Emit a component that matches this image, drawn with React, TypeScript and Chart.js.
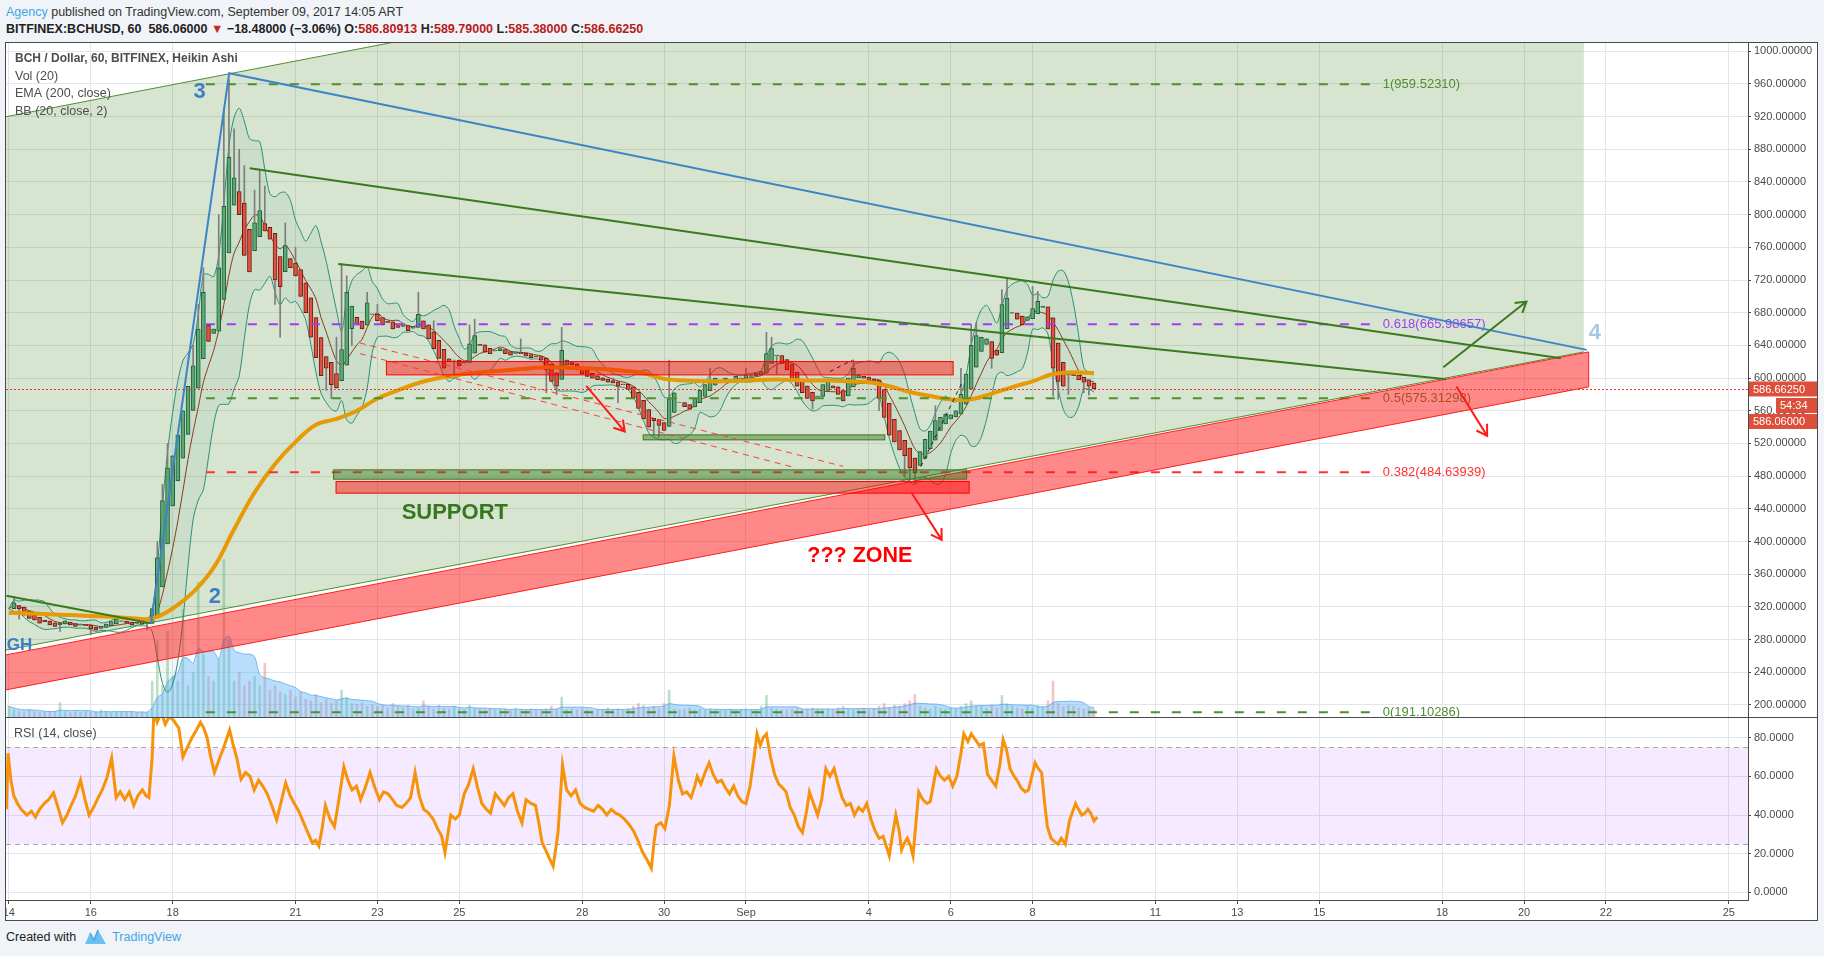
import React, { useEffect, useRef } from "react";
import { Chart, registerables } from "chart.js";

Chart.register(...registerables);

const FONT = '"Liberation Sans", Arial, Helvetica, sans-serif';

// ---------- axes ----------
// x values are days since Aug 14, 2017 00:00
const dayTicks = [0, 2, 4, 7, 9, 11, 14, 16, 18, 21, 23, 25, 28, 30, 32, 35, 37, 39, 42];
const dayTickLabels = ["14", "16", "18", "21", "23", "25", "28", "30", "Sep", "4", "6", "8", "11", "13", "15", "18", "20", "22", "25"];
const priceTicks = [200, 240, 280, 320, 360, 400, 440, 480, 520, 560, 600, 640, 680, 720, 760, 800, 840, 880, 920, 960, 1000];
const rsiTicks = [0, 20, 40, 60, 80];
const xRange = [-0.07, 42.47];
const priceRange = [185.3, 1010];
const rsiRange = [-3.9, 90.2];
const volumeAxisMax = 750;

// ---------- Heikin Ashi closes, one every 3 hours (8 per day) ----------
const candleStepDays = 0.125;
const haClose = [
  318, 325, 318, 310, 306, 304, 300, 302,
  298, 296, 300, 303, 298, 296, 299, 297,
  293, 292, 296, 299, 302, 305, 303, 300,
  298, 301, 299, 300, 318, 380, 450, 490,
  505, 530, 560, 590, 615, 660, 705, 645,
  660, 735, 810, 870, 845, 800, 750, 730,
  790, 805, 780, 770, 720, 712, 762, 735,
  725, 700, 680, 650, 625, 603, 612, 592,
  588, 635, 705, 688, 665, 660, 692, 678,
  670, 665, 668, 660, 662, 665, 658, 663,
  678, 660, 648, 636, 624, 612, 620, 622,
  615, 620, 642, 652, 640, 632, 630, 634,
  636, 630, 628, 632, 630, 627, 625, 626,
  622, 610, 596, 590, 634, 622, 616, 610,
  605, 602, 600, 598, 597, 595, 594, 590,
  592, 586, 576, 563, 550, 540, 548, 542,
  536, 575, 582, 570, 565, 562, 575, 585,
  592, 598, 600, 596, 600, 598, 602, 600,
  604, 603, 606, 608, 630, 636, 628, 618,
  610, 598, 590, 582, 575, 572, 578, 592,
  596, 588, 580, 572, 600, 612, 604, 600,
  597, 596, 575, 552, 530, 522, 512, 505,
  490, 484, 510, 525, 535, 548, 552, 556,
  555, 560, 580, 605, 640, 652, 650, 648,
  624, 628, 690, 698, 680, 672, 665, 675,
  685, 694, 688, 660, 612, 596, 590, 604,
  603, 598, 595, 590, 587,
];

// notable wicks: [candle index, price]
const wickHighs = [
  [1, 332], [29, 400], [30, 470], [31, 520], [36, 640], [37, 690], [38, 735], [41, 800], [42, 930], [43, 965],
  [44, 905], [45, 880], [46, 860], [48, 830], [49, 855], [50, 835], [54, 790], [56, 760], [64, 650], [65, 740],
  [66, 725], [70, 705], [72, 690], [80, 705], [83, 670], [90, 665], [91, 672], [100, 648], [108, 662], [118, 600],
  [129, 622], [137, 612], [144, 612], [148, 656], [149, 650], [165, 622], [181, 566], [186, 612], [188, 666],
  [189, 668], [194, 708], [195, 722], [200, 712], [201, 706], [204, 672],
];
const wickLows = [
  [2, 305], [10, 290], [16, 286], [27, 292], [52, 690], [53, 650], [62, 585], [63, 575], [67, 640], [87, 600],
  [105, 582], [107, 580], [119, 570], [126, 530], [127, 528], [150, 605], [157, 562], [170, 560], [175, 480],
  [176, 474], [177, 472], [192, 612], [204, 578], [205, 574], [207, 580], [210, 582], [211, 579],
];

// volume, same 3-hour steps
const volume = [
  12, 8, 6, 6, 8, 6, 5, 6,
  6, 6, 16, 6, 5, 6, 5, 6,
  5, 6, 8, 6, 5, 6, 6, 5,
  6, 5, 6, 5, 40, 85, 35, 95,
  45, 40, 120, 35, 50, 150, 70, 45,
  40, 65, 175, 85, 40, 50, 35, 40,
  45, 35, 60, 30, 35, 28, 25, 30,
  22, 28, 20, 18, 25, 16, 20, 15,
  18, 30, 22, 15, 14, 16, 12, 14,
  12, 13, 10, 15, 12, 10, 13, 9,
  10, 18, 12, 9, 13, 10, 9, 12,
  9, 8, 13, 10, 9, 8, 9, 8,
  8, 9, 8, 10, 8, 7, 9, 8,
  8, 9, 12, 9, 22, 8, 9, 8,
  9, 8, 7, 9, 8, 10, 8, 9,
  8, 9, 12, 15, 13, 10, 12, 9,
  15, 30, 9, 8, 9, 10, 8, 9,
  8, 9, 8, 7, 8, 9, 8, 8,
  9, 8, 8, 12, 24, 10, 9, 8,
  8, 9, 10, 8, 9, 10, 9, 8,
  9, 8, 10, 12, 9, 8, 9, 10,
  8, 9, 12, 15, 10, 13, 12, 15,
  18, 25, 12, 10, 9, 12, 10, 9,
  10, 9, 12, 15, 18, 13, 12, 10,
  13, 10, 24, 15, 12, 10, 9, 12,
  10, 13, 12, 18, 40, 15, 12, 13,
  12, 10, 9, 10, 8,
];

// EMA(200) read every 12 hours
const emaStepDays = 0.5;
const ema200 = [
  313, 312, 311, 310, 309, 308, 306, 306, 318, 338, 368, 415, 460, 495, 522, 543, 550, 560,
  575, 585, 594, 600, 604, 607, 609, 611, 613, 613, 612, 611, 609, 606, 599, 597, 596, 596,
  597, 598, 598, 597, 597, 596, 595, 590, 583, 578, 574, 574, 581, 589, 596, 605, 607, 606,
];

// RSI(14) readings: [day, value]
const rsiSeries = [
  [-0.06, 43], [-0.02, 72], [0.05, 58], [0.12, 50], [0.21, 46], [0.3, 43], [0.44, 40], [0.55, 42], [0.65, 39], [0.75, 43],
  [0.86, 46], [0.97, 48], [1.09, 51.5], [1.2, 44], [1.31, 36], [1.42, 40], [1.52, 45], [1.63, 50], [1.75, 58], [1.86, 48],
  [1.96, 40], [2.07, 44], [2.18, 49], [2.28, 53], [2.39, 59], [2.51, 69.5], [2.62, 49], [2.72, 52], [2.83, 48], [2.94, 52],
  [3.05, 45], [3.15, 50], [3.26, 53], [3.35, 50], [3.42, 49], [3.5, 70], [3.54, 94], [3.62, 88], [3.72, 93], [3.82, 87],
  [3.92, 91], [4.02, 89], [4.15, 85], [4.25, 70], [4.36, 75], [4.47, 80], [4.58, 84], [4.68, 88], [4.76, 85], [4.84, 80],
  [4.93, 70], [5.02, 62], [5.12, 68], [5.23, 74], [5.31, 79], [5.39, 84], [5.47, 77], [5.56, 70], [5.67, 58.6], [5.78, 62],
  [5.89, 60], [5.99, 53], [6.1, 58], [6.2, 55], [6.31, 51], [6.42, 45], [6.54, 37.5], [6.65, 47], [6.76, 56.6], [6.87, 50],
  [6.97, 46], [7.08, 42], [7.18, 37], [7.3, 31], [7.41, 25.6], [7.49, 27], [7.57, 24], [7.65, 33], [7.73, 45], [7.84, 38],
  [7.95, 34], [8.06, 48], [8.18, 65], [8.28, 58], [8.38, 53], [8.49, 55], [8.59, 48], [8.7, 54], [8.82, 62], [8.94, 54],
  [9.05, 48], [9.15, 52], [9.26, 51], [9.37, 48], [9.47, 45], [9.6, 44], [9.7, 46], [9.81, 49], [9.92, 62], [10.02, 50],
  [10.13, 43], [10.25, 41], [10.36, 38], [10.47, 33], [10.57, 29], [10.65, 20.6], [10.72, 30], [10.79, 40], [10.9, 38], [11.0, 40],
  [11.12, 51], [11.23, 56], [11.34, 64], [11.45, 54], [11.55, 46], [11.66, 43], [11.76, 41], [11.88, 51], [11.99, 48], [12.1, 45],
  [12.2, 49], [12.31, 51], [12.42, 42], [12.53, 36], [12.63, 48], [12.75, 46], [12.86, 45], [12.95, 35], [13.02, 26], [13.15, 20],
  [13.29, 13.6], [13.35, 22], [13.41, 31], [13.52, 66], [13.62, 53], [13.73, 50], [13.84, 53], [13.95, 46], [14.06, 44], [14.17, 43],
  [14.28, 42], [14.39, 45], [14.5, 43], [14.6, 40], [14.71, 43], [14.82, 41], [14.92, 40], [15.03, 38], [15.15, 35], [15.26, 31.5],
  [15.36, 27], [15.47, 21], [15.58, 17], [15.69, 12.5], [15.75, 25], [15.81, 34.5], [15.92, 36], [16.02, 33], [16.13, 45], [16.24, 70.6],
  [16.35, 58], [16.45, 51], [16.55, 52], [16.66, 49], [16.75, 55], [16.81, 60], [16.9, 56], [17.0, 62], [17.1, 67], [17.2, 61],
  [17.3, 57], [17.4, 58], [17.5, 54], [17.6, 51], [17.7, 55], [17.8, 50], [17.9, 47], [18.0, 46], [18.1, 55], [18.2, 70],
  [18.27, 82], [18.35, 76], [18.42, 80], [18.5, 82], [18.6, 70], [18.7, 61], [18.8, 56], [18.9, 54], [18.98, 52], [19.08, 44],
  [19.18, 40], [19.28, 34], [19.38, 31], [19.48, 42], [19.55, 52], [19.65, 46], [19.75, 40], [19.85, 48], [19.95, 64], [20.05, 60],
  [20.15, 64], [20.25, 56], [20.35, 49], [20.45, 45], [20.55, 46], [20.65, 40], [20.75, 44], [20.85, 42], [20.95, 46], [21.05, 38],
  [21.15, 32], [21.25, 28], [21.35, 29], [21.5, 19], [21.58, 30], [21.66, 40], [21.74, 32], [21.8, 22], [21.88, 26], [21.94, 28],
  [22.02, 24], [22.08, 19], [22.15, 36], [22.22, 52], [22.32, 48], [22.42, 46], [22.5, 47], [22.58, 56], [22.65, 64], [22.75, 60],
  [22.85, 58], [22.95, 60], [23.05, 55], [23.15, 60], [23.25, 72], [23.32, 82], [23.42, 78], [23.5, 82], [23.6, 79], [23.7, 76],
  [23.8, 77], [23.9, 61], [24.0, 58], [24.1, 55], [24.2, 66], [24.28, 79], [24.36, 74], [24.45, 64], [24.55, 60], [24.62, 58],
  [24.72, 54], [24.82, 52], [24.9, 53], [24.98, 60], [25.06, 67], [25.14, 64], [25.22, 62], [25.3, 45], [25.36, 34], [25.45, 28],
  [25.55, 26], [25.62, 25], [25.7, 28], [25.8, 25], [25.9, 37], [25.98, 42], [26.05, 46], [26.12, 43], [26.2, 40], [26.28, 41],
  [26.35, 43], [26.42, 41], [26.5, 37], [26.58, 39],
];
const rsiBandTop = 75;
const rsiBandBottom = 25;

// ---------- header values ----------
const lastPrice = 586.6625;
const lastTrade = 586.06;
const change = -18.48;
const changePct = -3.06;
const ohlc = [586.80913, 589.79, 585.38, 586.6625];
const countdown = "54:34";

// ---------- Fibonacci retracement ----------
const fibRatios = ["1", "0.618", "0.5", "0.382", "0"];
const fibPrices = [959.5231, 665.98657, 575.31298, 484.63939, 191.10286];
const fibColors = ["#4f8f2f", "#a23cf0", "#4f8f2f", "#ff3030", "#4f8f2f"];
const fibSpan = [4.81, 33.43];

// ---------- drawings (day, price) ----------
const trianglePts = [[-0.1, 919.5], [38.46, 1291], [38.46, 632], [-0.1, 267]];
const redBandPts = [[-0.1, 261], [38.58, 632], [38.58, 589.2], [-0.1, 218.2]];
const redRects = [[9.22, 603.9, 23.06, 620.2], [7.99, 459.2, 23.45, 473.4]];
const greenRects = [[15.49, 524.4, 21.39, 530.5], [7.93, 476.3, 23.39, 487.7]];
const blueWave = [[3.47, 300], [5.38, 973], [38.53, 634.5]];
const greenTrendlines = [
  [[5.88, 856.8], [37.9, 624.3]],
  [[8.04, 739.7], [35.1, 598.7]],
  [[-0.06, 333.6], [3.47, 300]],
];
const redDashed = [
  [[8.57, 643], [20.37, 492]],
  [[8.57, 630], [19.15, 491]],
];
const blackDashed = [
  [[20.05, 608], [20.6, 622]],
  [[22.27, 491.7], [23.27, 593.8]],
];
const greenArrows = [[[35.03, 613.3], [37.06, 693.6]]];
const redArrows = [
  [[35.35, 589.6], [36.1, 529.3]],
  [[22.04, 460], [22.78, 402]],
  [[14.1, 590.5], [15.04, 534.6]],
];
const textLabels = [
  { text: "3", d: 4.66, p: 950, color: "#3d7fc7", size: 22, align: "center" },
  { text: "2", d: 5.03, p: 332.6, color: "#3d7fc7", size: 22, align: "center" },
  { text: "4", d: 38.73, p: 655.7, color: "#a9c7e6", size: 22, align: "center" },
  { text: "GH", d: -0.05, p: 273, color: "#3d7fc7", size: 17, align: "left" },
  { text: "SUPPORT", d: 10.89, p: 435, color: "#38761d", size: 22, align: "center" },
  { text: "??? ZONE", d: 20.78, p: 382.6, color: "#ff0000", size: 21.5, align: "center" },
];
const legendLines = ["BCH / Dollar, 60, BITFINEX, Heikin Ashi", "Vol (20)", "EMA (200, close)", "BB (20, close, 2)"];

// ---------- derived tables ----------
const haOpen: number[] = [];
haClose.forEach((c, i) => {
  haOpen.push(i === 0 ? c : (haOpen[i - 1] + haClose[i - 1]) / 2);
});
const BB_LEN = 7;
const bb = haClose.map((_, i) => {
  const w = haClose.slice(Math.max(0, i - BB_LEN + 1), i + 1);
  const m = w.reduce((a, b) => a + b, 0) / w.length;
  const sd = Math.sqrt(w.reduce((a, b) => a + (b - m) * (b - m), 0) / w.length);
  return { m, u: m + 2 * sd, l: m - 2 * sd };
});
const VOL_MA = 7;
const volMa = volume.map((_, i) => {
  const w = volume.slice(Math.max(0, i - VOL_MA + 1), i + 1);
  return w.reduce((a, b) => a + b, 0) / w.length;
});

function pathPoly(ctx: any, X: any, Y: any, pts: number[][]) {
  ctx.beginPath();
  pts.forEach(([d, p], i) => (i ? ctx.lineTo(X(d), Y(p)) : ctx.moveTo(X(d), Y(p))));
  ctx.closePath();
}

function seg(ctx: any, X: any, Y: any, a: number[], b: number[]) {
  ctx.beginPath();
  ctx.moveTo(X(a[0]), Y(a[1]));
  ctx.lineTo(X(b[0]), Y(b[1]));
  ctx.stroke();
}

function arrow(ctx: any, X: any, Y: any, a: number[], b: number[], color: string) {
  const x1 = X(a[0]), y1 = Y(a[1]), x2 = X(b[0]), y2 = Y(b[1]);
  const ang = Math.atan2(y2 - y1, x2 - x1);
  const L = 12;
  ctx.strokeStyle = color;
  ctx.lineWidth = 2;
  ctx.setLineDash([]);
  ctx.beginPath();
  ctx.moveTo(x1, y1);
  ctx.lineTo(x2, y2);
  ctx.moveTo(x2 - L * Math.cos(ang - 0.55), y2 - L * Math.sin(ang - 0.55));
  ctx.lineTo(x2, y2);
  ctx.lineTo(x2 - L * Math.cos(ang + 0.55), y2 - L * Math.sin(ang + 0.55));
  ctx.stroke();
}

const mainOverlay = {
  id: "mainOverlay",
  beforeDatasetsDraw(chart: any) {
    const { ctx, chartArea: a } = chart;
    const X = (d: number) => chart.scales.x.getPixelForValue(d);
    const Y = (p: number) => chart.scales.y.getPixelForValue(p);
    ctx.save();
    ctx.beginPath();
    ctx.rect(a.left, a.top, a.right - a.left, a.bottom - a.top);
    ctx.clip();
    pathPoly(ctx, X, Y, trianglePts);
    ctx.fillStyle = "rgba(76,140,50,0.23)";
    ctx.fill();
    ctx.strokeStyle = "#4f8f2f";
    ctx.lineWidth = 1;
    seg(ctx, X, Y, trianglePts[0], trianglePts[1]);
    seg(ctx, X, Y, trianglePts[3], trianglePts[2]);
    ctx.restore();
  },
  afterDatasetsDraw(chart: any) {
    const { ctx, chartArea: a } = chart;
    const X = (d: number) => chart.scales.x.getPixelForValue(d);
    const Y = (p: number) => chart.scales.y.getPixelForValue(p);
    ctx.save();
    ctx.beginPath();
    ctx.rect(a.left, a.top, a.right - a.left, a.bottom - a.top);
    ctx.clip();

    // fib levels
    fibPrices.forEach((p, i) => {
      ctx.strokeStyle = fibColors[i];
      ctx.lineWidth = 2;
      ctx.setLineDash([9, 12]);
      seg(ctx, X, Y, [fibSpan[0], p], [fibSpan[1], p]);
      ctx.setLineDash([]);
      ctx.fillStyle = fibColors[i];
      ctx.font = `13px ${FONT}`;
      ctx.textAlign = "left";
      ctx.textBaseline = "middle";
      ctx.fillText(`${fibRatios[i]}(${p.toFixed(5)})`, X(fibSpan[1]) + 5, Y(p));
    });

    // red rising band
    pathPoly(ctx, X, Y, redBandPts);
    ctx.fillStyle = "rgba(255,20,20,0.5)";
    ctx.fill();
    ctx.strokeStyle = "#ff1e1e";
    ctx.lineWidth = 1;
    ctx.stroke();

    // rectangles
    redRects.forEach(([d1, p1, d2, p2]) => {
      ctx.fillStyle = "rgba(255,0,0,0.45)";
      ctx.fillRect(X(d1), Y(p2), X(d2) - X(d1), Y(p1) - Y(p2));
      ctx.strokeStyle = "#ff0000";
      ctx.lineWidth = 1;
      ctx.strokeRect(X(d1), Y(p2), X(d2) - X(d1), Y(p1) - Y(p2));
    });
    greenRects.forEach(([d1, p1, d2, p2]) => {
      ctx.fillStyle = "rgba(56,118,29,0.45)";
      ctx.fillRect(X(d1), Y(p2), X(d2) - X(d1), Y(p1) - Y(p2));
      ctx.strokeStyle = "#38761d";
      ctx.lineWidth = 1;
      ctx.strokeRect(X(d1), Y(p2), X(d2) - X(d1), Y(p1) - Y(p2));
    });

    // dashed guide lines
    ctx.lineWidth = 1;
    ctx.strokeStyle = "#ff3b3b";
    ctx.setLineDash([6, 5]);
    redDashed.forEach(([s, e]) => seg(ctx, X, Y, s, e));
    ctx.strokeStyle = "#222";
    ctx.setLineDash([4, 4]);
    blackDashed.forEach(([s, e]) => seg(ctx, X, Y, s, e));
    ctx.setLineDash([]);

    // trend lines
    ctx.strokeStyle = "#3a7a1f";
    ctx.lineWidth = 2;
    greenTrendlines.forEach(([s, e]) => seg(ctx, X, Y, s, e));
    ctx.strokeStyle = "#3d85c6";
    ctx.lineWidth = 2;
    ctx.beginPath();
    blueWave.forEach(([d, p], i) => (i ? ctx.lineTo(X(d), Y(p)) : ctx.moveTo(X(d), Y(p))));
    ctx.stroke();

    greenArrows.forEach(([s, e]) => arrow(ctx, X, Y, s, e, "#3a7a1f"));
    redArrows.forEach(([s, e]) => arrow(ctx, X, Y, s, e, "#ff1a1a"));

    // labels
    textLabels.forEach((t) => {
      ctx.font = `bold ${t.size}px ${FONT}`;
      ctx.fillStyle = t.color;
      ctx.textAlign = t.align;
      ctx.textBaseline = "middle";
      ctx.fillText(t.text, X(t.d), Y(t.p));
    });

    // last price dotted line
    ctx.strokeStyle = "#e53935";
    ctx.lineWidth = 1;
    ctx.setLineDash([2, 2]);
    ctx.beginPath();
    ctx.moveTo(a.left, Math.round(Y(lastPrice)) + 0.5);
    ctx.lineTo(a.right, Math.round(Y(lastPrice)) + 0.5);
    ctx.stroke();
    ctx.setLineDash([]);
    ctx.restore();
  },
  afterDraw(chart: any) {
    const { ctx, chartArea: a, width } = chart;
    const Y = (p: number) => chart.scales.y.getPixelForValue(p);
    ctx.save();
    // legend
    ctx.textAlign = "left";
    ctx.textBaseline = "middle";
    legendLines.forEach((t, i) => {
      ctx.font = i === 0 ? `bold 12px ${FONT}` : `12.5px ${FONT}`;
      ctx.fillStyle = "#4d4d4d";
      ctx.fillText(t, a.left + 9, a.top + 16 + i * 17.5);
    });
    // price boxes on the axis
    const yl = Y(lastPrice);
    const box = (x: number, y: number, w: number, h: number, txt: string) => {
      ctx.fillStyle = "#dd4f3b";
      ctx.fillRect(x, y, w, h);
      ctx.fillStyle = "#ffffff";
      ctx.font = `11px ${FONT}`;
      ctx.textAlign = "left";
      ctx.textBaseline = "middle";
      ctx.fillText(txt, x + 4, y + h / 2 + 0.5);
    };
    box(a.right + 1, yl - 7.5, width - a.right - 1, 15, lastPrice.toFixed(5));
    box(a.right + 28, yl + 9, width - a.right - 28, 15, countdown);
    box(a.right + 1, yl + 25, width - a.right - 1, 15, lastTrade.toFixed(5));
    ctx.restore();
  },
};

const rsiOverlay = {
  id: "rsiOverlay",
  beforeDatasetsDraw(chart: any) {
    const { ctx, chartArea: a } = chart;
    const Y = (v: number) => chart.scales.y.getPixelForValue(v);
    ctx.save();
    ctx.fillStyle = "rgba(153,51,255,0.1)";
    ctx.fillRect(a.left, Y(rsiBandTop), a.right - a.left, Y(rsiBandBottom) - Y(rsiBandTop));
    ctx.strokeStyle = "#a8a8a8";
    ctx.lineWidth = 1;
    ctx.setLineDash([5, 4]);
    [rsiBandTop, rsiBandBottom].forEach((v) => {
      ctx.beginPath();
      ctx.moveTo(a.left, Math.round(Y(v)) + 0.5);
      ctx.lineTo(a.right, Math.round(Y(v)) + 0.5);
      ctx.stroke();
    });
    ctx.restore();
  },
  afterDraw(chart: any) {
    const { ctx, chartArea: a } = chart;
    ctx.save();
    ctx.font = `12.5px ${FONT}`;
    ctx.fillStyle = "#4d4d4d";
    ctx.textAlign = "left";
    ctx.textBaseline = "middle";
    ctx.fillText("RSI (14, close)", a.left + 8, a.top + 16);
    ctx.restore();
  },
};

const GRID = "#e2e5e9";
const AXIS = "#4a4a4a";

function mainConfig(): any {
  const x = (i: number) => i * candleStepDays;
  const bodies = haClose.map((c, i) => ({ x: x(i), y: [haOpen[i], c] }));
  const up = haClose.map((c, i) => c >= haOpen[i]);
  const hiMap = new Map(wickHighs.map(([i, v]) => [i, v]));
  const loMap = new Map(wickLows.map(([i, v]) => [i, v]));
  const wicks = haClose.map((c, i) => {
    const hi = Math.max(c, haOpen[i], hiMap.get(i) ?? -Infinity);
    const lo = Math.min(c, haOpen[i], loMap.get(i) ?? Infinity);
    return { x: x(i), y: [lo, hi] };
  });
  return {
    type: "bar",
    data: {
      datasets: [
        {
          type: "bar", data: volume.map((v, i) => ({ x: x(i), y: v })), yAxisID: "yv",
          backgroundColor: up.map((u) => (u ? "rgba(90,175,105,0.4)" : "rgba(225,110,110,0.4)")),
          barThickness: 2, grouped: false, order: 20,
        },
        {
          type: "line", data: volMa.map((v, i) => ({ x: x(i), y: v })), yAxisID: "yv",
          fill: "origin", backgroundColor: "rgba(100,181,246,0.45)", borderColor: "rgba(90,170,240,0.8)",
          borderWidth: 1, pointRadius: 0, tension: 0.3, order: 19,
        },
        {
          type: "line", data: bb.map((b, i) => ({ x: x(i), y: b.u })), fill: "+1",
          backgroundColor: "rgba(40,140,110,0.07)", borderColor: "#2b8f7a", borderWidth: 1, pointRadius: 0, tension: 0.3, order: 6,
        },
        {
          type: "line", data: bb.map((b, i) => ({ x: x(i), y: b.l })), fill: false,
          borderColor: "#2b8f7a", borderWidth: 1, pointRadius: 0, tension: 0.3, order: 6,
        },
        {
          type: "line", data: bb.map((b, i) => ({ x: x(i), y: b.m })), fill: false,
          borderColor: "#8b3a1a", borderWidth: 1, pointRadius: 0, tension: 0.3, order: 5,
        },
        {
          type: "bar", data: wicks, backgroundColor: "#7d7d7d", barThickness: 1, grouped: false, order: 4,
        },
        {
          type: "bar", data: bodies,
          backgroundColor: up.map((u) => (u ? "#5aa873" : "#e2513f")),
          borderColor: up.map((u) => (u ? "#245e37" : "#6e1d12")),
          borderWidth: 1, borderSkipped: false, barThickness: 4, grouped: false, order: 3,
        },
        {
          type: "line", data: ema200.map((v, i) => ({ x: i * emaStepDays, y: v })), fill: false,
          borderColor: "#e69a06", borderWidth: 4, pointRadius: 0, tension: 0.4, order: 1,
        },
      ],
    },
    options: {
      responsive: false, animation: false, devicePixelRatio: 1, events: [],
      layout: { padding: 0 },
      plugins: { legend: { display: false }, tooltip: { enabled: false } },
      scales: {
        x: {
          type: "linear", min: xRange[0], max: xRange[1], offset: false,
          afterBuildTicks: (s: any) => { s.ticks = dayTicks.map((v) => ({ value: v })); },
          afterFit: (s: any) => { s.height = 0; s.paddingLeft = 0; s.paddingRight = 0; },
          ticks: { display: false },
          grid: { color: GRID, drawTicks: false, offset: false },
          border: { display: false },
        },
        y: {
          type: "linear", position: "right", min: priceRange[0], max: priceRange[1],
          afterBuildTicks: (s: any) => { s.ticks = priceTicks.map((v) => ({ value: v })); },
          afterFit: (s: any) => { s.width = 69; s.paddingTop = 0; s.paddingBottom = 0; },
          ticks: {
            color: AXIS, font: { family: FONT, size: 11 }, padding: 3, autoSkip: false,
            callback: (v: any) => Number(v).toFixed(5),
          },
          grid: { color: GRID, tickLength: 3, tickColor: AXIS },
          border: { color: AXIS, width: 1 },
        },
        yv: { type: "linear", display: false, min: 0, max: volumeAxisMax },
      },
    },
    plugins: [mainOverlay],
  };
}

function rsiConfig(): any {
  return {
    type: "line",
    data: {
      datasets: [
        {
          data: rsiSeries.map(([d, v]) => ({ x: d, y: v })),
          borderColor: "#f7930a", borderWidth: 3, pointRadius: 0, fill: false, clip: 0,
        },
      ],
    },
    options: {
      responsive: false, animation: false, devicePixelRatio: 1, events: [],
      layout: { padding: 0 },
      plugins: { legend: { display: false }, tooltip: { enabled: false } },
      scales: {
        x: {
          type: "linear", min: xRange[0], max: xRange[1], offset: false,
          afterBuildTicks: (s: any) => { s.ticks = dayTicks.map((v) => ({ value: v })); },
          afterFit: (s: any) => { s.height = 20; s.paddingLeft = 0; s.paddingRight = 0; },
          ticks: {
            color: AXIS, font: { family: FONT, size: 11 }, padding: 2, autoSkip: false, maxRotation: 0, minRotation: 0,
            callback: (v: any) => dayTickLabels[dayTicks.indexOf(Number(v))],
          },
          grid: { color: GRID, tickLength: 4, tickColor: AXIS, offset: false },
          border: { color: AXIS, width: 1 },
        },
        y: {
          type: "linear", position: "right", min: rsiRange[0], max: rsiRange[1],
          afterBuildTicks: (s: any) => { s.ticks = rsiTicks.map((v) => ({ value: v })); },
          afterFit: (s: any) => { s.width = 69; s.paddingTop = 0; s.paddingBottom = 0; },
          ticks: {
            color: AXIS, font: { family: FONT, size: 11 }, padding: 3, autoSkip: false,
            callback: (v: any) => Number(v).toFixed(4),
          },
          grid: { color: GRID, tickLength: 3, tickColor: AXIS },
          border: { color: AXIS, width: 1 },
        },
      },
    },
    plugins: [rsiOverlay],
  };
}

export default function App() {
  const mainRef = useRef<HTMLCanvasElement>(null);
  const rsiRef = useRef<HTMLCanvasElement>(null);

  useEffect(() => {
    document.body.style.margin = "0";
    const c1 = new Chart(mainRef.current as HTMLCanvasElement, mainConfig());
    const c2 = new Chart(rsiRef.current as HTMLCanvasElement, rsiConfig());
    return () => {
      c1.destroy();
      c2.destroy();
    };
  }, []);

  const red = { color: "#b71c1c" };
  const fmt = (v: number) => v.toFixed(5);
  const sign = (v: number) => (v < 0 ? "\u2212" : "+") + Math.abs(v).toFixed(5);

  return (
    <div style={{ position: "absolute", left: 0, top: 0, width: 1824, height: 956, background: "#f0f3f7", overflow: "hidden", fontFamily: FONT }}>
      <div style={{ position: "absolute", left: 6, top: 4, fontSize: 12.5, lineHeight: "16px", color: "#333", whiteSpace: "nowrap" }}>
        <span style={{ color: "#3ea6e8" }}>Agency</span> published on TradingView.com, September 09, 2017 14:05 ART
      </div>
      <div style={{ position: "absolute", left: 6, top: 21, fontSize: 12.5, lineHeight: "16px", fontWeight: "bold", color: "#222", whiteSpace: "nowrap" }}>
        BITFINEX:BCHUSD, 60{"\u00a0\u00a0"}{lastTrade.toFixed(5)} <span style={{ color: "#c62828" }}>{"\u25bc"}</span> {sign(change)} ({"\u2212"}{Math.abs(changePct).toFixed(2)}%) O:<span style={red}>{fmt(ohlc[0])}</span> H:<span style={red}>{fmt(ohlc[1])}</span> L:<span style={red}>{fmt(ohlc[2])}</span> C:<span style={red}>{fmt(ohlc[3])}</span>
      </div>

      <div style={{ position: "absolute", left: 5, top: 42, width: 1813, height: 879, boxSizing: "border-box", border: "1px solid #4a4a4a", background: "#ffffff" }}>
        <canvas ref={mainRef} width={1811} height={674} style={{ position: "absolute", left: 0, top: 0, width: 1811, height: 674 }} />
        <div style={{ position: "absolute", left: 0, top: 674, width: 1811, height: 1, background: "#4a4a4a" }} />
        <canvas ref={rsiRef} width={1811} height={202} style={{ position: "absolute", left: 0, top: 675, width: 1811, height: 202 }} />
      </div>

      <div style={{ position: "absolute", left: 6, top: 929, fontSize: 12.5, lineHeight: "16px", color: "#222", whiteSpace: "nowrap", display: "flex", alignItems: "center" }}>
        <span>Created with</span>
        <svg width="24" height="16" viewBox="0 0 24 16" style={{ marginLeft: 8, marginRight: 4 }}>
          <path d="M1 15 L6 4 L10 11 L14 1 L22 15 Z" fill="#6cc0ee" />
          <path d="M6 4 L10 11 L14 1" fill="none" stroke="#3ea6e8" strokeWidth="1.5" />
        </svg>
        <span style={{ color: "#3ea6e8" }}>TradingView</span>
      </div>
    </div>
  );
}
